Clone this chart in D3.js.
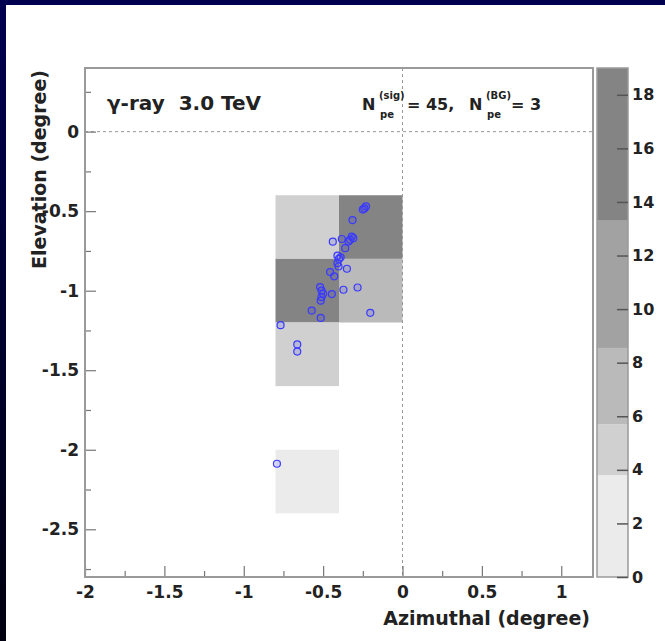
<!DOCTYPE html>
<html>
<head>
<meta charset="utf-8">
<script src="https://cdn.jsdelivr.net/npm/d3@7"></script>
<style>
  body { margin: 0; background: #fff; }
  svg { display: block; }
  text { font-family: "DejaVu Sans", "Liberation Sans", sans-serif; font-weight: bold; fill: #222; white-space: pre; }
</style>
</head>
<body>
<svg id="chart" width="665" height="641"></svg>
<script>
// 2D histogram bins (lower-left corners), bin width 0.4 deg
const binAzim = [-0.8, -0.4, -0.8, -0.4, -0.8, -0.8];
const binElev = [-0.8, -0.8, -1.2, -1.2, -1.6, -2.4];
const binCount = [5, 19, 16, 7, 5, 2];

// Contour levels of the colour palette and their greys
const levels = [0, 3.8, 5.7, 8.55, 13.3, 19];
const greys = ["#ebebeb", "#d0d0d0", "#bababa", "#a2a2a2", "#848484"];

// Photo-electron positions (degree)
const azim = [-0.24, -0.23, -0.25, -0.315, -0.32, -0.33, -0.31, -0.34, -0.382, -0.439, -0.361,
  -0.39, -0.40, -0.41, -0.41, -0.403, -0.35, -0.456, -0.43, -0.283, -0.372, -0.51, -0.50, -0.51,
  -0.445, -0.515, -0.519, -0.572, -0.515, -0.203, -0.768, -0.663, -0.663, -0.791];
const elev = [-0.483, -0.47, -0.49, -0.556, -0.66, -0.68, -0.67, -0.69, -0.675, -0.692, -0.733,
  -0.79, -0.80, -0.78, -0.827, -0.848, -0.862, -0.883, -0.91, -0.98, -0.994, -1.0, -1.02, -1.04,
  -1.021, -1.063, -0.977, -1.125, -1.171, -1.139, -1.217, -1.338, -1.383, -2.088];

const xTicks = [-2, -1.5, -1, -0.5, 0, 0.5, 1];
const yTicks = [0, -0.5, -1, -1.5, -2, -2.5];
const zTicks = [0, 2, 4, 6, 8, 10, 12, 14, 16, 18];

const binW = 0.4;
const svg = d3.select("#chart");

// dark slide border on left and top
const grad = svg.append("defs").append("linearGradient")
    .attr("id", "side").attr("x1", 0).attr("y1", 0).attr("x2", 0).attr("y2", 1);
grad.append("stop").attr("offset", 0).attr("stop-color", "#000050");
grad.append("stop").attr("offset", 1).attr("stop-color", "#000010");
svg.append("rect").attr("x", 0).attr("y", 0).attr("width", 6).attr("height", 641).attr("fill", "url(#side)");
svg.append("rect").attr("x", 0).attr("y", 0).attr("width", 665).attr("height", 5).attr("fill", "#000050");

const frame = { left: 85, right: 593, top: 68, bottom: 577 };

const x = d3.scaleLinear().domain([-2, 1.2]).range([frame.left, frame.right]);
const y = d3.scaleLinear().domain([-2.8, 0.4]).range([frame.bottom, frame.top]);
const z = d3.scaleLinear().domain([0, 19]).range([frame.bottom, frame.top]);
const colour = d3.scaleThreshold().domain(levels.slice(1, -1)).range(greys);

// bins
svg.append("g").selectAll("rect")
    .data(binCount)
  .join("rect")
    .attr("x", (d, i) => x(binAzim[i]))
    .attr("y", (d, i) => y(binElev[i] + binW))
    .attr("width", (d, i) => x(binAzim[i] + binW) - x(binAzim[i]))
    .attr("height", (d, i) => y(binElev[i]) - y(binElev[i] + binW))
    .attr("fill", d => colour(d));

// dashed zero lines
svg.append("line")
    .attr("x1", x(0)).attr("x2", x(0)).attr("y1", frame.top).attr("y2", frame.bottom)
    .attr("stroke", "#999").attr("stroke-dasharray", "3,3");
svg.append("line")
    .attr("x1", frame.left).attr("x2", frame.right).attr("y1", y(0)).attr("y2", y(0))
    .attr("stroke", "#999").attr("stroke-dasharray", "3,3");

// points
svg.append("g").selectAll("circle")
    .data(azim)
  .join("circle")
    .attr("cx", (d, i) => x(d))
    .attr("cy", (d, i) => y(elev[i]))
    .attr("r", 3.5)
    .attr("fill", "rgba(60,60,255,0.15)")
    .attr("stroke", "#3a3aff")
    .attr("stroke-width", 1.2);

// axes (plain hyphen minus, as in the original)
const fmt = d => String(d);
const xAxis = svg.append("g")
    .attr("transform", `translate(0,${frame.bottom})`)
    .call(d3.axisBottom(x).tickValues(xTicks).tickSizeInner(-11).tickSizeOuter(0).tickPadding(9)
      .tickFormat(fmt));
const xMinor = svg.append("g")
    .attr("transform", `translate(0,${frame.bottom})`)
    .call(d3.axisBottom(x).tickValues(d3.range(-1.75, 1.2, 0.5)).tickSize(-6).tickFormat(""));
const yAxis = svg.append("g")
    .attr("transform", `translate(${frame.left},0)`)
    .call(d3.axisLeft(y).tickValues(yTicks).tickSizeInner(-11).tickSizeOuter(0).tickPadding(6)
      .tickFormat(fmt));
const yMinor = svg.append("g")
    .attr("transform", `translate(${frame.left},0)`)
    .call(d3.axisLeft(y).tickValues(d3.range(0.25, -2.8, -0.5)).tickSize(-6).tickFormat(""));

[xAxis, xMinor, yAxis, yMinor].forEach(g => {
  g.select(".domain").remove();
  g.selectAll(".tick line").attr("stroke", "#777").attr("stroke-width", 1.2);
  g.selectAll("text").attr("font-size", 17).attr("fill", "#222");
});

// frame
svg.append("rect")
    .attr("x", frame.left).attr("y", frame.top)
    .attr("width", frame.right - frame.left).attr("height", frame.bottom - frame.top)
    .attr("fill", "none").attr("stroke", "#9a9a9a").attr("stroke-width", 2);

// colour bar
const bar = { left: 597, right: 628 };
svg.append("g").selectAll("rect")
    .data(greys)
  .join("rect")
    .attr("x", bar.left)
    .attr("y", (d, i) => z(levels[i + 1]))
    .attr("width", bar.right - bar.left)
    .attr("height", (d, i) => z(levels[i]) - z(levels[i + 1]))
    .attr("fill", d => d);
svg.append("rect")
    .attr("x", bar.left).attr("y", frame.top)
    .attr("width", bar.right - bar.left).attr("height", frame.bottom - frame.top)
    .attr("fill", "none").attr("stroke", "#9a9a9a").attr("stroke-width", 1.5);
const zAxis = svg.append("g")
    .attr("transform", `translate(${bar.right},0)`)
    .call(d3.axisRight(z).tickValues(zTicks).tickSizeInner(-11).tickSizeOuter(0).tickPadding(4));
zAxis.select(".domain").remove();
zAxis.selectAll(".tick line").attr("stroke", "#555").attr("stroke-width", 1.5);
zAxis.selectAll("text").attr("font-size", 16).attr("fill", "#222");

// axis titles
svg.append("text")
    .attr("x", 590).attr("y", 625)
    .attr("text-anchor", "end").attr("font-size", 19)
    .text("Azimuthal (degree)");
svg.append("text")
    .attr("transform", "translate(46,70) rotate(-90)")
    .attr("text-anchor", "end").attr("font-size", 19)
    .text("Elevation (degree)");

// header
svg.append("text")
    .attr("x", 107).attr("y", 110).attr("font-size", 20)
    .text("γ-ray  3.0 TeV");

const hdr = svg.append("text").attr("font-size", 16);
hdr.append("tspan").attr("x", 362).attr("y", 110).text("N");
hdr.append("tspan").attr("x", 379).attr("y", 99).attr("font-size", 10).text("(sig)");
hdr.append("tspan").attr("x", 380).attr("y", 118).attr("font-size", 10).text("pe");
hdr.append("tspan").attr("x", 407).attr("y", 110).text("= 45,");
hdr.append("tspan").attr("x", 469).attr("y", 110).text("N");
hdr.append("tspan").attr("x", 486).attr("y", 99).attr("font-size", 10).text("(BG)");
hdr.append("tspan").attr("x", 487).attr("y", 118).attr("font-size", 10).text("pe");
hdr.append("tspan").attr("x", 511).attr("y", 110).text("= 3");
</script>
</body>
</html>
